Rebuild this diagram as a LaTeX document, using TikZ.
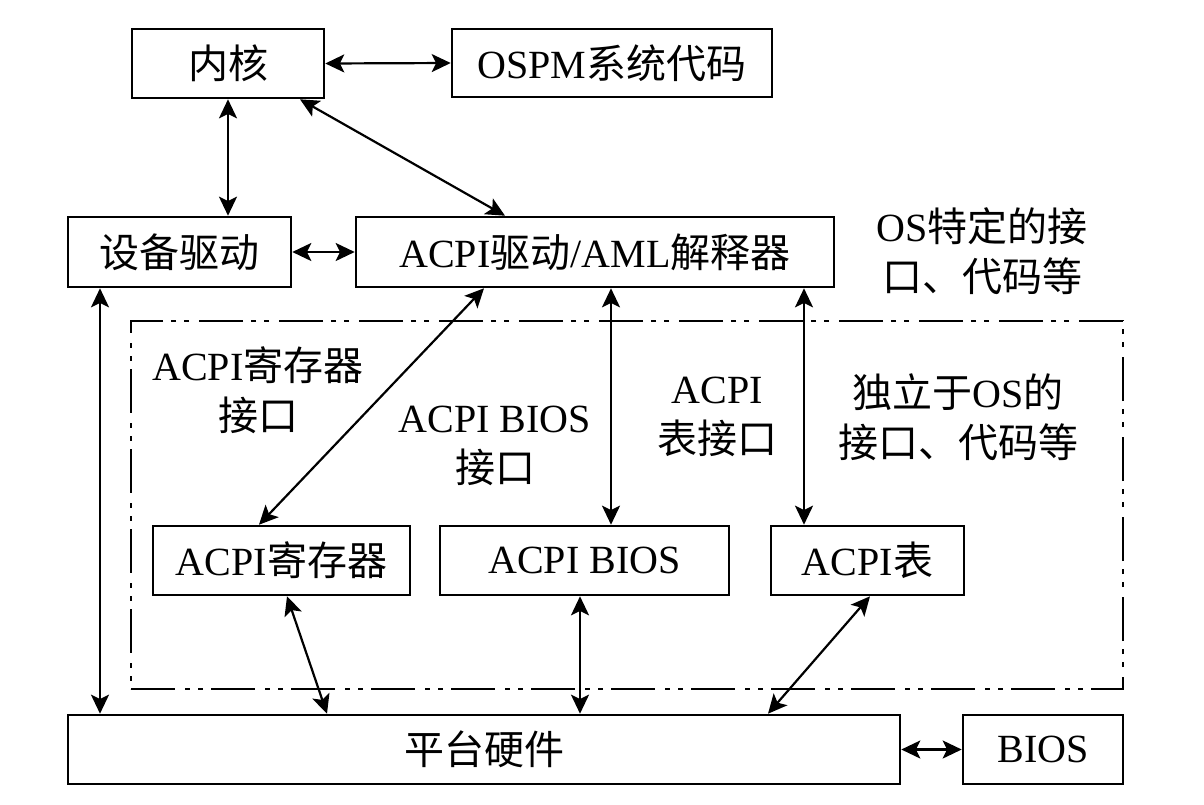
\documentclass[tikz,border=0pt]{standalone}
\usepackage{fontspec}
\setmainfont{Liberation Serif}
\newfontfamily\cjk{Noto Sans CJK SC}
\usetikzlibrary{arrows.meta}
\newcommand\zh[1]{{\cjk #1}}
\begin{document}
\begin{tikzpicture}[x=0.5pt,y=-0.5pt,
  box/.style={draw, line width=1.3pt, inner sep=0pt, font=\fontsize{20}{25}\selectfont},
  lbl/.style={align=center, inner sep=0pt, font=\fontsize{20}{25}\selectfont},
  arr/.style={{Stealth[length=9.5pt,width=9pt,inset=2.2pt]}-{Stealth[length=9.5pt,width=9pt,inset=2.2pt]}, line width=1.1pt},
  dashdot/.style={draw, line width=1.1pt, dash pattern=on 22pt off 5pt on 2.5pt off 4pt on 2.5pt off 4pt}]
\useasboundingbox (0,0) rectangle (1204,804);

% boxes
\node[box, minimum width=96pt, minimum height=34.5pt] (kern) at (228,63.5) {\zh{内核}};
\node[box, minimum width=160pt, minimum height=34pt] (ospm) at (612,63) {OSPM\zh{系统代码}};
\node[box, minimum width=111.5pt, minimum height=35pt] (dev) at (179.5,252) {\zh{设备驱动}};
\node[box, minimum width=239pt, minimum height=35pt] (acpi) at (595,252) {ACPI\zh{驱动}/AML\zh{解释器}};
\node[lbl] (osspec) at (982,251) {OS\zh{特定的接}\\\zh{口、代码等}};

\node[dashdot, inner sep=0pt, minimum width=496pt, minimum height=184pt] (frame) at (627,505) {};

\node[lbl] (reglbl) at (258,390) {ACPI\zh{寄存器}\\\zh{接口}};
\node[lbl] (bioslbl) at (495,446) {ACPI BIOS\\\zh{接口}};
\node[lbl] (tbllbl) at (717,417) {ACPI\\\zh{表接口}};
\node[lbl] (indlbl) at (958,417) {\zh{独立于}OS\zh{的}\\\zh{接口、代码等}};

\node[box, minimum width=128.5pt, minimum height=34.5pt] (reg) at (281.5,560.5) {ACPI\zh{寄存器}};
\node[box, minimum width=144.5pt, minimum height=34.5pt] (bios1) at (584.5,560.5) {ACPI BIOS};
\node[box, minimum width=96.5pt, minimum height=34.5pt] (tbl) at (867.5,560.5) {ACPI\zh{表}};

\node[box, minimum width=416pt, minimum height=34.5pt] (hw) at (484,749.5) {\zh{平台硬件}};
\node[box, minimum width=80pt, minimum height=34.5pt] (bios) at (1043,749.5) {BIOS};

% connectors
\draw[arr] (kern.east) -- (ospm.west);
\draw[arr] (kern.south) -- (kern.south |- dev.north);
\draw[arr] ([xshift=36pt]kern.south) -- ([xshift=-45pt]acpi.north);
\draw[arr] (dev.east) -- (acpi.west);
\draw[arr] ([xshift=-39.75pt]dev.south) -- ([xshift=-39.75pt]dev.south |- hw.north);
\draw[arr] ([xshift=-55.5pt]acpi.south) -- ([xshift=-11.25pt]reg.north);
\draw[arr] ([xshift=8pt]acpi.south) -- ([xshift=8pt]acpi.south |- bios1.north);
\draw[arr] ([xshift=104.5pt]acpi.south) -- ([xshift=104.5pt]acpi.south |- tbl.north);
\draw[arr] ([xshift=2.75pt]reg.south) -- ([xshift=-78.5pt]hw.north);
\draw[arr] ([xshift=-2.25pt]bios1.south) -- ([xshift=-2.25pt]bios1.south |- hw.north);
\draw[arr] ([xshift=1.25pt]tbl.south) -- ([xshift=142pt]hw.north);
\draw[arr] (hw.east) -- (bios.west);
\end{tikzpicture}
\end{document}
